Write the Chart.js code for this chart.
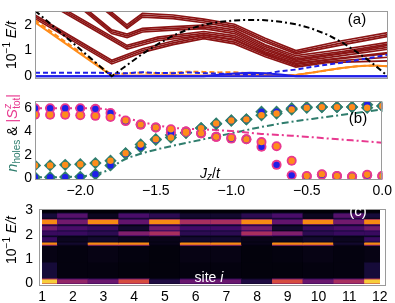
<!DOCTYPE html>
<html>
<head>
<meta charset="utf-8">
<script src="https://cdn.jsdelivr.net/npm/chart.js@4.4.1/dist/chart.umd.min.js"></script>
<style>
  html, body { margin: 0; padding: 0; background: #fff; }
  #wrap { position: relative; width: 395px; height: 303px; overflow: hidden; }
  canvas { position: absolute; left: 0; }
</style>
</head>
<body>
<div id="wrap">
  <canvas id="energies" width="395" height="90" style="top:0"></canvas>
  <canvas id="counts" width="395" height="108" style="top:90px"></canvas>
  <canvas id="heat" width="395" height="108" style="top:195px"></canvas>
</div>
<script>
const FONT = "'Liberation Sans', Arial, sans-serif";
Chart.defaults.font.family = FONT;
Chart.defaults.font.size = 14;
Chart.defaults.color = '#000';
Chart.defaults.animation = false;

// ---------- panel (a): 10^-1 E/t vs Jz/t
const aTicks = [0, 1, 2];

// dark red excitation branches, [Jz/t, E] pairs
const redLines = [
  [[-1.9, 2.97], [-1.7, 2.0], [-1.6, 2.44], [-1.4, 2.38], [-1.2, 2.22], [-1.0, 2.02], [-0.8, 1.48], [-0.6, 1.0], [-0.3, 1.38], [0, 1.7]],
  [[-1.9, 2.9], [-1.7, 1.93], [-1.6, 2.37], [-1.4, 2.31], [-1.2, 2.15], [-1.0, 1.95], [-0.8, 1.4], [-0.6, 0.93], [-0.3, 1.3], [0, 1.62]],
  [[-1.9, 2.83], [-1.7, 1.86], [-1.6, 2.3], [-1.4, 2.24], [-1.2, 2.08], [-1.0, 1.88], [-0.8, 1.33], [-0.6, 0.87], [-0.3, 1.22], [0, 1.55]],
  [[-2.0, 2.78], [-1.8, 1.8], [-1.7, 1.64], [-1.6, 1.86], [-1.4, 1.93], [-1.2, 1.99], [-1.0, 1.8], [-0.8, 1.22], [-0.6, 0.8], [-0.3, 1.04], [0, 1.32]],
  [[-2.0, 2.71], [-1.8, 1.73], [-1.7, 1.57], [-1.6, 1.79], [-1.4, 1.86], [-1.2, 1.92], [-1.0, 1.73], [-0.8, 1.15], [-0.6, 0.73], [-0.3, 0.96], [0, 1.25]],
  [[-2.0, 2.64], [-1.8, 1.66], [-1.7, 1.5], [-1.6, 1.72], [-1.4, 1.79], [-1.2, 1.85], [-1.0, 1.66], [-0.8, 1.08], [-0.6, 0.67], [-0.3, 0.9], [0, 1.2]],
  [[-2.2, 2.92], [-1.7, 1.2], [-1.5, 1.52], [-1.2, 1.74], [-1.0, 1.58], [-0.8, 1.02], [-0.6, 0.62], [-0.3, 0.88], [0, 1.12]],
  [[-2.2, 2.85], [-1.7, 1.13], [-1.5, 1.45], [-1.2, 1.67], [-1.0, 1.51], [-0.8, 0.95], [-0.6, 0.56], [-0.3, 0.8], [0, 1.05]],
  [[-2.2, 2.78], [-1.7, 1.06], [-1.5, 1.38], [-1.2, 1.6], [-1.0, 1.44], [-0.8, 0.88], [-0.6, 0.5], [-0.3, 0.72], [0, 0.92]],
  [[-2.3, 2.38], [-1.8, 0.62], [-1.6, 1.07], [-1.4, 1.37], [-1.2, 1.6], [-1.0, 1.4], [-0.8, 0.9], [-0.6, 0.46], [-0.4, 0.63], [0, 0.88]],
  [[-2.3, 2.31], [-1.8, 0.55], [-1.6, 1.0], [-1.4, 1.3], [-1.2, 1.53], [-1.0, 1.33], [-0.8, 0.83], [-0.6, 0.41], [-0.4, 0.57], [0, 0.74]],
  [[-2.3, 2.24], [-1.8, 0.48], [-1.6, 0.93], [-1.4, 1.23], [-1.2, 1.46], [-1.0, 1.26], [-0.8, 0.76], [-0.6, 0.36], [-0.4, 0.53], [0, 0.6]]
];

const blackJ = [-2.3, -1.8, -1.6, -1.5, -1.4, -1.3, -1.2, -1.1, -1.0, -0.9, -0.8, -0.7, -0.6, -0.5, -0.4, -0.3, -0.2, -0.1, 0];
const blackE = [2.55, 0, 0.87, 1.25, 1.58, 1.83, 2.0, 2.11, 2.17, 2.19, 2.18, 2.12, 2.02, 1.86, 1.63, 1.32, 0.93, 0.5, 0];

const orangeJ = [-2.3, -1.8, -1.6, -1.4, -1.2, -1.0, -0.8, -0.6, -0.5, -0.4, -0.3, -0.2, -0.1, 0];
const orangeE = [2.1, 0.02, 0.03, 0.04, 0.03, 0.03, 0.04, 0.05, 0.14, 0.23, 0.32, 0.39, 0.42, 0.39];

const orangeDashJ = [-2.3, -1.8, -1.7, -1.6, -1.5, -1.4, -1.3, -1.2, -1.1, -1.0, -0.9, -0.8, -0.7, -0.6, -0.5, -0.4, -0.3, -0.2, -0.1, 0];
const orangeDashE = [2.18, 0.06, 0.12, 0.14, 0.12, 0.14, 0.18, 0.17, 0.15, 0.16, 0.12, 0.08, 0.05, 0.05, 0.14, 0.23, 0.32, 0.39, 0.42, 0.39];

const blueJ = [-2.3, 0];
const blueE = [0, 0];
const blueBumpJ = [-2.3, -1.2, -1.1, -1.0, -0.9, -0.8, -0.7, -0.6, 0];
const blueBumpE = [0, 0, 0.06, 0.11, 0.14, 0.12, 0.07, 0, 0];

const blueDashJ = [-2.3, -1.9, -1.8, -1.7, -1.6, -1.5, -1.4, -1.3, -1.2, -1.1, -1.0, -0.9, -0.8, -0.7, -0.6, -0.5, -0.4, -0.3, -0.2, -0.1, 0];
const blueDashE = [0.14, 0.14, 0.12, 0.12, 0.16, 0.13, 0.12, 0.15, 0.12, 0.1, 0.08, 0.06, 0.1, 0.2, 0.26, 0.36, 0.45, 0.53, 0.63, 0.73, 0.84];

// ---------- panel (b): n_holes and |S^z_tot|
const jGrid = [-2.3, -2.2, -2.1, -2.0, -1.9, -1.8, -1.7, -1.6, -1.5, -1.4, -1.3, -1.2,
               -1.1, -1.0, -0.9, -0.8, -0.7, -0.6, -0.5, -0.4, -0.3, -0.2, -0.1, 0];
const spinBlue   = [6.0, 6.0, 6.0, 6.0, 5.95, 5.6, 4.9, 4.6, 4.35, 3.95, 4.0, 3.85, 3.55, 3.4, 3.35, 2.7, 1.15, 0.25, 0.15, 0.3, 0.2, 0.15, 0.25, 0.2];
const spinOrange = [5.45, 5.45, 5.45, 5.4, 5.35, 5.25, 4.95, 4.6, 4.35, 4.2, 4.0, 3.85, 3.55, 3.45, 3.35, 3.1, 2.75, 1.5, 0.2, 0.35, 0.2, 0.15, 0.3, 0.2];
const holesBlue   = [0.08, 0.08, 0.1, 0.12, 0.35, 1.1, 2.1, 2.65, 3.3, 3.7, 3.9, 4.3, 4.65, 4.95, 5.05, 5.7, 5.7, 6.0, 6.1, 6.1, 6.1, 6.1, 6.3, 6.2];
const holesOrange = [1.1, 1.1, 1.15, 1.2, 1.3, 1.5, 2.15, 2.9, 3.35, 3.5, 3.9, 4.3, 4.7, 4.95, 5.05, 5.4, 5.55, 5.9, 6.05, 6.1, 6.1, 6.1, 6.05, 6.2];

const spinLineJ = [-2.3, -1.9, -1.8, -1.75, -1.6, -1.4, -1.2, -1.0, -0.8, -0.6, -0.4, -0.2, 0];
const spinLine  = [6.0, 6.0, 5.8, 5.45, 4.85, 4.35, 4.2, 4.05, 3.8, 3.65, 3.45, 3.25, 3.05];
const holesLineJ = [-2.3, -2.0, -1.9, -1.8, -1.75, -1.7, -1.6, -1.5, -1.4, -1.2, -1.0, -0.8, -0.6, -0.4, -0.2, 0];
const holesLine  = [0.08, 0.15, 0.35, 0.8, 1.3, 1.65, 2.1, 2.45, 2.75, 3.3, 3.85, 4.4, 4.85, 5.2, 5.55, 5.9];

const bXTicks = [-2.0, -1.5, -1.0, -0.5, 0.0];
const bYTicks = [0, 2, 4, 6];

// ---------- panel (c): local spectrum per site
const heatSites = [1, 2, 3, 4, 5, 6, 7, 8, 9, 10, 11, 12];
const bandEnergy = [0.085, 1.67, 1.81, 2.06, 2.27, 2.53, 2.78];
const bandLevel = [
  [0.88, 0.4, 0.3, 0.58, 0.12, 0.3, 0.3, 0.12, 0.58, 0.3, 0.45, 0.88],
  [0.74, 0.08, 0.74, 0.74, 0.04, 0.74, 0.74, 0.04, 0.74, 0.74, 0.08, 0.74],
  [0.18, 0.05, 0.08, 0.05, 0.04, 0.08, 0.08, 0.04, 0.05, 0.08, 0.05, 0.18],
  [0.18, 0.18, 0.15, 0.35, 0.45, 0.15, 0.15, 0.45, 0.35, 0.15, 0.18, 0.18],
  [0.32, 0.22, 0.18, 0.08, 0.32, 0.2, 0.2, 0.32, 0.08, 0.18, 0.22, 0.32],
  [0.74, 0.32, 0.74, 0.28, 0.74, 0.45, 0.45, 0.74, 0.28, 0.74, 0.32, 0.74],
  [0.1, 0.25, 0.05, 0.22, 0.15, 0.08, 0.08, 0.15, 0.22, 0.05, 0.25, 0.1]
];
const lowGlowRange = [0.18, 0.88];
const lowGlow = [0.1, 0.02, 0.02, 0.015, 0.015, 0.02, 0.02, 0.015, 0.015, 0.02, 0.02, 0.1];
const midGlowRange = [0.88, 1.57];
const midGlow = [0.03, 0.02, 0.03, 0.02, 0.015, 0.03, 0.03, 0.015, 0.02, 0.03, 0.02, 0.03];
const cTicksY = [0, 1, 2, 3];

// ---------- helpers
const RED = '#8b1414', ORANGE = '#ff8c1a', BLUE = '#1f1fe8', PINK = '#e8388f', TEAL = '#2f7d6d';
const pts = (xs, ys) => xs.map((x, i) => ({ x, y: ys[i] }));
const fmt = v => (v < 0 ? '\u2212' : '') + Math.abs(v).toFixed(1);

const infernoStops = ['#000004', '#160b39', '#420a68', '#6a176e', '#932667', '#bc3754',
                      '#dd513a', '#f37819', '#fca50a', '#f6d746', '#fcffa4'];
function inferno(t) {
  t = Math.min(1, Math.max(0, t)) * 10;
  const i = Math.min(9, Math.floor(t)), f = t - i;
  const a = infernoStops[i], b = infernoStops[i + 1];
  const c = k => Math.round(parseInt(a.substr(k, 2), 16) * (1 - f) + parseInt(b.substr(k, 2), 16) * f);
  return `rgb(${c(1)},${c(3)},${c(5)})`;
}

function drawRich(ctx, parts, x, y, vertical) {
  ctx.save();
  ctx.translate(x, y);
  if (vertical) ctx.rotate(-Math.PI / 2);
  ctx.textBaseline = 'middle';
  ctx.textAlign = 'left';
  let cx = 0, lastStart = 0, lastEnd = 0;
  const placed = parts.map(p => {
    ctx.font = p.font;
    const w = ctx.measureText(p.t).width;
    const start = p.under ? lastStart : cx;
    const end = p.under ? Math.max(lastEnd, start + w) : start + w;
    lastStart = start; lastEnd = end; cx = end;
    return { p, start };
  });
  placed.forEach(({ p, start }) => {
    ctx.font = p.font;
    ctx.fillStyle = p.color || '#000';
    ctx.fillText(p.t, start - cx / 2, p.dy || 0);
  });
  ctx.restore();
}

Chart.register({
  id: 'frame',
  afterDatasetsDraw(chart, args, opts) {
    const { ctx, chartArea: a } = chart;
    ctx.save();
    ctx.strokeStyle = opts.color || '#9a9a9a';
    ctx.lineWidth = 1;
    const l = Math.round(a.left) + 0.5, t = Math.round(a.top) + 0.5;
    ctx.strokeRect(l, t, Math.round(a.right) - l - 0.5, Math.round(a.bottom) - t - 0.5);
    ctx.restore();
  }
}, {
  id: 'texts',
  afterDraw(chart, args, opts) {
    (opts.items || []).forEach(it => drawRich(chart.ctx, it.parts, it.x, it.y, it.vertical));
  }
});

const f = (size, style) => `${style || ''} ${size}px ${FONT}`;
const eTitle = [
  { t: '10', font: f(14) },
  { t: '\u22121', font: f(10), dy: -5 },
  { t: ' ', font: f(14) },
  { t: 'E/t', font: f(14, 'italic') }
];
const yAxis = (min, max, ticks, width, pad) => ({
  type: 'linear', min, max,
  grid: { display: false, drawTicks: false },
  border: { display: false },
  afterFit: s => { s.width = width; },
  afterBuildTicks: s => { s.ticks = ticks.map(v => ({ value: v })); },
  ticks: { padding: pad, callback: v => String(v) }
});
const noUi = { legend: { display: false }, tooltip: { enabled: false } };

// ---------- chart (a)
const lineDs = (data, color, extra) => Object.assign({
  data, borderColor: color, borderWidth: 2, pointRadius: 0, fill: false, tension: 0
}, extra);

new Chart(document.getElementById('energies'), {
  type: 'line',
  data: {
    datasets: [
      lineDs(pts(blackJ, blackE), '#000', { borderDash: [6, 3, 2, 3], order: 0 }),
      lineDs(pts(blueJ, blueE), BLUE, { order: 1 }),
      lineDs(pts(blueBumpJ, blueBumpE), BLUE, { order: 1 }),
      lineDs(pts(blueDashJ, blueDashE), BLUE, { borderDash: [5, 3], order: 1 }),
      lineDs(pts(orangeDashJ, orangeDashE), ORANGE, { borderDash: [5, 3], order: 2 }),
      lineDs(pts(orangeJ, orangeE), ORANGE, { order: 2 }),
      ...redLines.map(l => lineDs(l.map(([x, y]) => ({ x, y })), RED, { borderWidth: 1.7, order: 5 }))
    ]
  },
  options: {
    responsive: false,
    devicePixelRatio: 1,
    layout: { padding: { top: 1, right: 7, bottom: 2, left: 0 } },
    scales: {
      x: { type: 'linear', min: -2.3, max: 0, display: false },
      y: yAxis(-0.09, 2.52, aTicks, 35, 3)
    },
    plugins: Object.assign({}, noUi, {
      frame: {},
      texts: { items: [
        { parts: eTitle, x: 12, y: 45, vertical: true },
        { parts: [{ t: '(a)', font: f(15) }], x: 357, y: 20 }
      ] }
    })
  }
});

// ---------- chart (b)
const dotDs = (ys, color, style, r, order) => ({
  data: pts(jGrid, ys), backgroundColor: color, borderWidth: 0,
  pointStyle: style, pointRadius: r, showLine: false, order
});

new Chart(document.getElementById('counts'), {
  type: 'scatter',
  data: {
    datasets: [
      dotDs(spinOrange, ORANGE, 'circle', 3.2, 1),
      dotDs(holesOrange, ORANGE, 'circle', 3.2, 1),
      dotDs(spinBlue, BLUE, 'circle', 3.2, 3),
      dotDs(holesBlue, BLUE, 'circle', 3.2, 3),
      dotDs(spinBlue, PINK, 'circle', 5, 6),
      dotDs(spinOrange, PINK, 'circle', 5, 6),
      dotDs(holesBlue, TEAL, 'rectRot', 6.2, 6),
      dotDs(holesOrange, TEAL, 'rectRot', 6.2, 6),
      lineDs(pts(spinLineJ, spinLine), PINK, { showLine: true, borderDash: [7, 3, 2, 3], cubicInterpolationMode: 'monotone', order: 10 }),
      lineDs(pts(holesLineJ, holesLine), TEAL, { showLine: true, borderDash: [7, 3, 2, 3], cubicInterpolationMode: 'monotone', order: 10 })
    ]
  },
  options: {
    responsive: false,
    devicePixelRatio: 1,
    layout: { padding: { top: 2, right: 7, bottom: 0, left: 0 } },
    scales: {
      x: {
        type: 'linear', min: -2.3, max: 0,
        grid: { display: false, drawTicks: false },
        border: { display: false },
        afterFit: s => { s.height = 18; },
        afterBuildTicks: s => { s.ticks = bXTicks.map(v => ({ value: v })); },
        ticks: { padding: 3, maxRotation: 0, callback: v => fmt(v) }
      },
      y: yAxis(-0.15, 6.59, bYTicks, 35, 3)
    },
    plugins: Object.assign({}, noUi, {
      frame: {},
      texts: { items: [
        { parts: [
            { t: 'n', font: f(15, 'italic'), color: TEAL },
            { t: 'holes', font: f(10), color: TEAL, dy: 4 },
            { t: ' & ', font: f(14) },
            { t: '|', font: f(14), color: PINK },
            { t: 'S', font: f(15, 'italic'), color: PINK },
            { t: 'z', font: f(10, 'italic'), color: PINK, dy: -5 },
            { t: 'tot', font: f(10), color: PINK, dy: 4, under: true },
            { t: '|', font: f(14), color: PINK }
          ], x: 13, y: 43, vertical: true },
        { parts: [
            { t: 'J', font: f(14, 'italic') },
            { t: 'z', font: f(10, 'italic'), dy: 3 },
            { t: '/', font: f(14) },
            { t: 't', font: f(14, 'italic') }
          ], x: 210, y: 84 },
        { parts: [{ t: '(b)', font: f(15) }], x: 358, y: 29 }
      ] }
    })
  }
});

// ---------- chart (c)
const cells = [], cellColors = [];
heatSites.forEach((s, i) => {
  cells.push({ x: s, y: [0, 3] }); cellColors.push(inferno(0.005));
  cells.push({ x: s, y: lowGlowRange }); cellColors.push(inferno(lowGlow[i]));
  cells.push({ x: s, y: midGlowRange }); cellColors.push(inferno(midGlow[i]));
});
bandEnergy.forEach((e, b) => {
  heatSites.forEach((s, i) => {
    const v = bandLevel[b][i];
    cells.push({ x: s, y: [Math.max(0, e - 0.11), e + 0.11] }); cellColors.push(inferno(v * 0.55));
    cells.push({ x: s, y: [Math.max(0, e - 0.07), e + 0.07] }); cellColors.push(inferno(v));
  });
});

new Chart(document.getElementById('heat'), {
  type: 'bar',
  data: {
    datasets: [{
      data: cells,
      backgroundColor: cellColors,
      borderWidth: 0,
      barPercentage: 1,
      categoryPercentage: 1,
      grouped: false,
      clip: { left: -3, right: -6, top: 0, bottom: 0 }
    }]
  },
  options: {
    responsive: false,
    devicePixelRatio: 1,
    layout: { padding: { top: 3, right: 9, bottom: 0, left: 0 } },
    scales: {
      x: {
        type: 'linear', min: 0.9, max: 12.2, offset: false,
        grid: { display: false, drawTicks: false },
        border: { display: false },
        afterFit: s => { s.height = 17; },
        afterBuildTicks: s => { s.ticks = heatSites.map(v => ({ value: v })); },
        ticks: { padding: 3, maxRotation: 0, callback: v => String(v) }
      },
      y: yAxis(-0.1, 3.04, cTicksY, 39, 6)
    },
    plugins: Object.assign({}, noUi, {
      frame: {},
      texts: { items: [
        { parts: eTitle, x: 12, y: 45, vertical: true },
        { parts: [{ t: '(c)', font: f(15), color: '#fff' }], x: 358, y: 17 },
        { parts: [{ t: 'site ', font: f(14), color: '#fff' }, { t: 'i', font: f(14, 'italic'), color: '#fff' }], x: 209, y: 83 }
      ] }
    })
  }
});
</script>
</body>
</html>
